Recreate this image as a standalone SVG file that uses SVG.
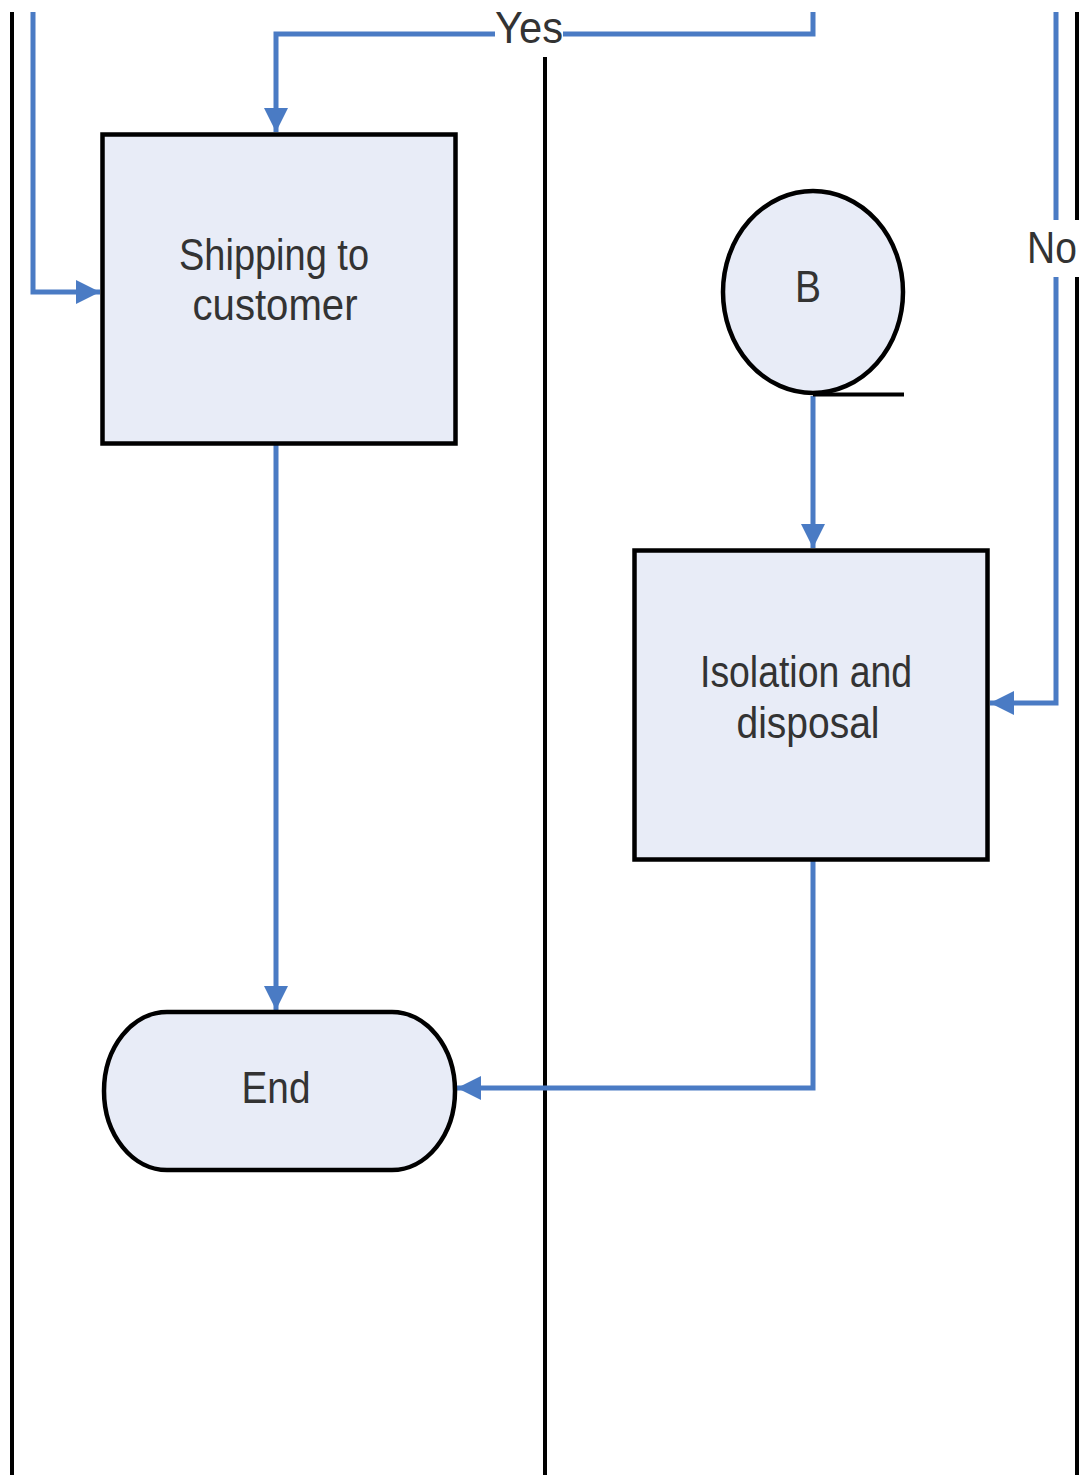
<svg xmlns="http://www.w3.org/2000/svg" width="1082" height="1475" viewBox="0 0 1082 1475">
  <style>
    .lane { stroke: #000; stroke-width: 4; fill: none; }
    .conn { stroke: #4A7BC4; stroke-width: 5; fill: none; marker-end: url(#arrow); }
    .plain { stroke: #4A7BC4; stroke-width: 5; fill: none; }
    .node { fill: #E8ECF7; stroke: #000; stroke-width: 4.5; }
    .lbl { font-family: "Liberation Sans", Arial, sans-serif; font-size: 39px; fill: #333; }
    .bg { fill: #fff; stroke: none; }
  </style>
  <defs>
    <marker id="arrow" viewBox="0 0 24 24" refX="24" refY="12" markerWidth="24" markerHeight="24" markerUnits="userSpaceOnUse" orient="auto">
      <path d="M0,0 L24,12 L0,24 z" fill="#4A7BC4"/>
    </marker>
  </defs>
  <rect x="0" y="0" width="1082" height="1475" fill="#fff"/>

  <g id="lanes">
    <line class="lane" x1="12" y1="12" x2="12" y2="1475"/>
    <line class="lane" x1="545" y1="12" x2="545" y2="1475"/>
    <line class="lane" x1="1077" y1="12" x2="1077" y2="1475"/>
  </g>

  <g id="connectors">
    <path class="conn" d="M33,12 V292 H100"/>
    <path class="conn" d="M813,12 V34 H276 V132"/>
    <path class="conn" d="M276,444 V1010"/>
    <path class="conn" d="M813,396 V548"/>
    <path class="conn" d="M813,860 V1088 H457"/>
    <path class="conn" d="M1056,12 V703 H990"/>
    <g id="label-yes">
      <rect class="bg" x="495" y="0" width="68" height="57"/>
      <text class="lbl" text-anchor="middle" transform="translate(529,43) scale(1,1.14)" textLength="68" lengthAdjust="spacingAndGlyphs">Yes</text>
    </g>
    <g id="label-no">
      <rect class="bg" x="1022" y="220" width="70" height="57"/>
      <text class="lbl" transform="translate(1027,263) scale(1,1.14)">No</text>
    </g>
  </g>

  <g id="shipping">
    <rect class="node" x="102.5" y="134.5" width="353" height="309"/>
    <text class="lbl" text-anchor="middle" transform="translate(274,270) scale(1,1.14)" textLength="190" lengthAdjust="spacingAndGlyphs">Shipping to</text>
    <text class="lbl" text-anchor="middle" transform="translate(275,320) scale(1,1.14)" textLength="165" lengthAdjust="spacingAndGlyphs">customer</text>
  </g>

  <g id="connector-b">
    <ellipse class="node" cx="813" cy="292" rx="90" ry="101"/>
    <line x1="813" y1="394.5" x2="904" y2="394.5" stroke="#000" stroke-width="4"/>
    <text class="lbl" text-anchor="middle" transform="translate(808,302) scale(1,1.14)">B</text>
  </g>

  <g id="isolation">
    <rect class="node" x="634.5" y="550.5" width="353" height="309"/>
    <text class="lbl" text-anchor="middle" transform="translate(806,687) scale(1,1.14)" textLength="212" lengthAdjust="spacingAndGlyphs">Isolation and</text>
    <text class="lbl" text-anchor="middle" transform="translate(808,738) scale(1,1.14)" textLength="143" lengthAdjust="spacingAndGlyphs">disposal</text>
  </g>

  <g id="end">
    <rect class="node" x="104" y="1012" width="351" height="158" rx="63" ry="79"/>
    <text class="lbl" text-anchor="middle" transform="translate(276,1103) scale(1,1.14)" textLength="69" lengthAdjust="spacingAndGlyphs">End</text>
  </g>
</svg>
